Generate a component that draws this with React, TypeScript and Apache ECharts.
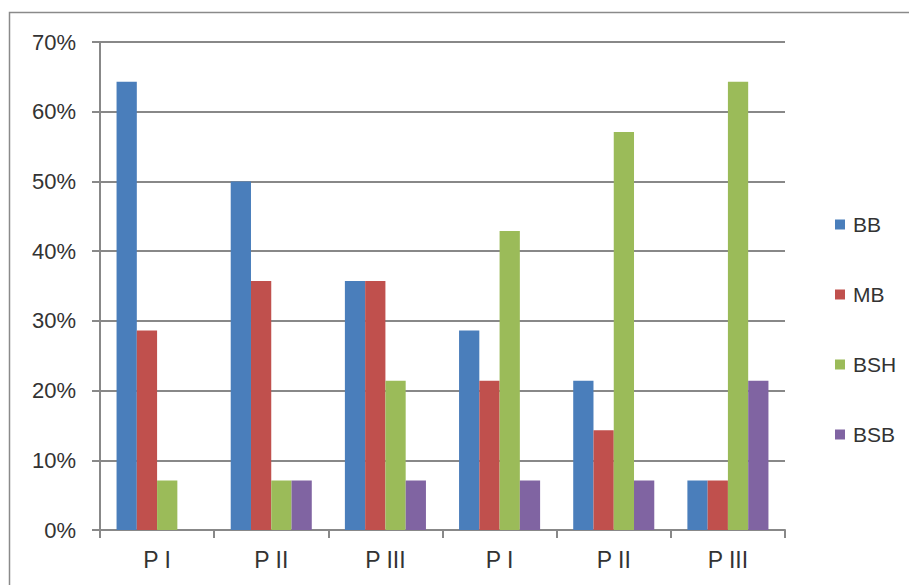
import React, { useEffect, useRef } from "react";
import * as echarts from "echarts";

const categories = ["P I", "P II", "P III", "P I", "P II", "P III"];
const seriesNames = ["BB", "MB", "BSH", "BSB"];
const bbValues = [64.3, 50.0, 35.7, 28.6, 21.4, 7.1];
const mbValues = [28.6, 35.7, 35.7, 21.4, 14.3, 7.1];
const bshValues = [7.1, 7.1, 21.4, 42.9, 57.1, 64.3];
const bsbValues = [0, 7.1, 7.1, 7.1, 7.1, 21.4];
const colors = ["#4a7ebb", "#c0504d", "#9bbb59", "#8064a2"];

export default function App() {
  const ref = useRef<HTMLDivElement>(null);
  useEffect(() => {
    if (!ref.current) return;
    const chart = echarts.init(ref.current, null, { renderer: "svg" });
    const allValues = [bbValues, mbValues, bshValues, bsbValues];
    chart.setOption({
      animation: false,
      backgroundColor: "#ffffff",
      textStyle: { fontFamily: "Liberation Sans, Arial, sans-serif" },
      graphic: [
        {
          type: "rect",
          shape: { x: 9.5, y: 12.5, width: 920, height: 600 },
          style: { fill: "none", stroke: "#8a8a8a", lineWidth: 1.5 },
          silent: true,
        },
      ],
      grid: { left: 100, right: 124, top: 42, bottom: 55 },
      legend: {
        orient: "vertical",
        left: 830,
        top: 209,
        itemWidth: 10,
        itemHeight: 10,
        itemGap: 49,
        icon: "rect",
        data: seriesNames,
        textStyle: { fontSize: 21, lineHeight: 14, color: "#333", padding: [0, 0, 0, 3] },
      },
      xAxis: {
        type: "category",
        data: categories,
        axisLine: { lineStyle: { color: "#888", width: 2 } },
        axisTick: { show: true, length: 8, lineStyle: { color: "#888", width: 2 } },
        axisLabel: { fontSize: 23, color: "#333", margin: 18 },
      },
      yAxis: {
        type: "value",
        min: 0,
        max: 70,
        interval: 10,
        axisLine: { show: true, lineStyle: { color: "#888", width: 2 } },
        axisTick: { show: true, length: 8, lineStyle: { color: "#888", width: 2 } },
        splitLine: { lineStyle: { color: "#888", width: 2 } },
        axisLabel: { fontSize: 22, color: "#333", margin: 24, formatter: "{value}%" },
      },
      series: seriesNames.map((name, i) => ({
        name,
        type: "bar",
        data: allValues[i],
        itemStyle: { color: colors[i] },
        barGap: "0%",
        barCategoryGap: "29%",
      })),
    });
    return () => chart.dispose();
  }, []);
  return (
    <div
      ref={ref}
      style={{ position: "fixed", left: 0, top: 0, width: 909, height: 585 }}
    />
  );
}
